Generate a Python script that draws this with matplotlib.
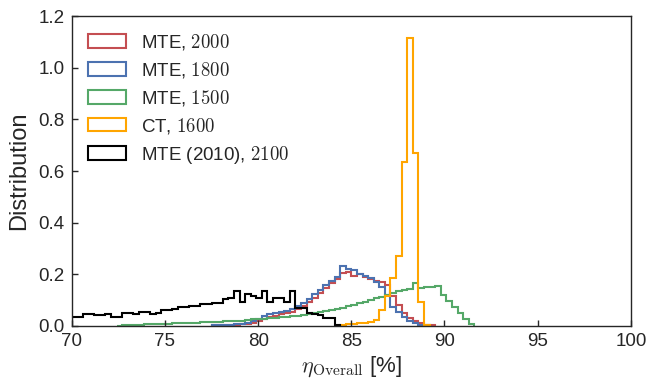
import numpy as np
import matplotlib
matplotlib.use("Agg")
import matplotlib.pyplot as plt
from matplotlib.patches import Patch

plt.rcParams['font.family'] = ['Liberation Sans', 'DejaVu Sans']
plt.rcParams['mathtext.fontset'] = 'cm'

# histogram bin edges: 70 .. 100 in steps of 0.3
bin_width = 0.3
x_start = 70.0
n_bins = 100

# each series: index of first non-zero bin and its density values
mte2000_start = 25
mte2000 = [0.002, 0.003, 0.004, 0.005, 0.005, 0.006, 0.008, 0.012, 0.018, 0.025,
           0.035, 0.040, 0.045, 0.050, 0.055, 0.065, 0.078, 0.092, 0.110, 0.128,
           0.148, 0.165, 0.180, 0.205, 0.210, 0.195, 0.200, 0.188, 0.180, 0.175,
           0.172, 0.160, 0.115, 0.080, 0.050, 0.030, 0.018, 0.010, 0.005, 0.002]

mte1800_start = 25
mte1800 = [0.002, 0.003, 0.004, 0.005, 0.006, 0.007, 0.010, 0.018, 0.025, 0.040,
           0.045, 0.050, 0.053, 0.058, 0.065, 0.078, 0.090, 0.105, 0.122, 0.140,
           0.158, 0.174, 0.190, 0.232, 0.222, 0.215, 0.200, 0.195, 0.185, 0.172,
           0.150, 0.120, 0.075, 0.055, 0.035, 0.020, 0.010, 0.005, 0.002]

mte1500_start = 8
mte1500 = [0.001, 0.002, 0.003, 0.004, 0.005, 0.006, 0.007, 0.008, 0.007,
           0.009, 0.010, 0.011, 0.012, 0.013, 0.012, 0.015, 0.016, 0.017, 0.016,
           0.018, 0.020, 0.019, 0.021, 0.023, 0.025, 0.027, 0.028, 0.030, 0.032,
           0.033, 0.035, 0.037, 0.040, 0.044, 0.048, 0.050, 0.053, 0.056, 0.060,
           0.066, 0.070, 0.076, 0.082, 0.088, 0.094, 0.100, 0.108, 0.113, 0.120,
           0.127, 0.137, 0.140, 0.142, 0.165, 0.146, 0.150, 0.152, 0.155,
           0.120, 0.097, 0.075, 0.049, 0.026, 0.007]

ct1600_start = 48
ct1600 = [0.003, 0.006, 0.008, 0.010, 0.013, 0.017, 0.023, 0.060, 0.116, 0.187,
          0.270, 0.636, 1.115, 0.668, 0.092, 0.005]

mte2010_start = 0
mte2010 = [0.036, 0.036, 0.045, 0.045, 0.043, 0.043, 0.045, 0.036, 0.036, 0.052,
           0.052, 0.046, 0.055, 0.055, 0.045, 0.050, 0.063, 0.060, 0.065, 0.073,
           0.073, 0.079, 0.079, 0.085, 0.085, 0.089, 0.089, 0.105, 0.110, 0.134,
           0.091, 0.122, 0.115, 0.107, 0.135, 0.094, 0.110, 0.110, 0.094, 0.135,
           0.068, 0.068, 0.049, 0.045, 0.043, 0.031, 0.030, 0.004]

series = [
    ("MTE, $2000$", mte2000_start, mte2000, "#C44E52"),
    ("MTE, $1800$", mte1800_start, mte1800, "#4C72B0"),
    ("MTE, $1500$", mte1500_start, mte1500, "#55A868"),
    ("CT, $1600$", ct1600_start, ct1600, "#FFA500"),
    ("MTE (2010), $2100$", mte2010_start, mte2010, "#000000"),
]

edges_all = x_start + bin_width * np.arange(n_bins + 1)

fig = plt.figure(figsize=(6.47, 3.83), dpi=100)
ax = fig.add_axes([0.111, 0.149, 0.864, 0.809])

handles = []
for label, start, vals, color in series:
    e = edges_all[start:start + len(vals) + 1]
    ax.stairs(vals, e, color=color, linewidth=1.5, baseline=0)
    handles.append(Patch(facecolor='none', edgecolor=color, linewidth=1.5, label=label))

ax.set_xlim(70, 100)
ax.set_ylim(0, 1.2)
ax.set_xticks([70, 75, 80, 85, 90, 95, 100])
ax.set_yticks([0.0, 0.2, 0.4, 0.6, 0.8, 1.0, 1.2])
ax.set_yticklabels(["0.0", "0.2", "0.4", "0.6", "0.8", "1.0", "1.2"])
ax.tick_params(direction='in', length=4, width=1, labelsize=13.5, colors='#262626',
               top=False, right=False, pad=5)
for s in ax.spines.values():
    s.set_color('#262626')
    s.set_linewidth(1.0)

ax.set_ylabel("Distribution", fontsize=17, color='#262626', labelpad=6)
ax.set_xlabel(r"$\eta_{\rm Overall}$ [%]", fontsize=16, color='#262626', labelpad=3)

leg = ax.legend(handles=handles, loc='upper left', frameon=False, fontsize=13.5,
                handlelength=2.05, handleheight=0.75, labelspacing=0.42,
                handletextpad=0.8, borderaxespad=0.4, borderpad=0.45)
for t in leg.get_texts():
    t.set_color('#262626')

fig.savefig("out.png", dpi=100)
